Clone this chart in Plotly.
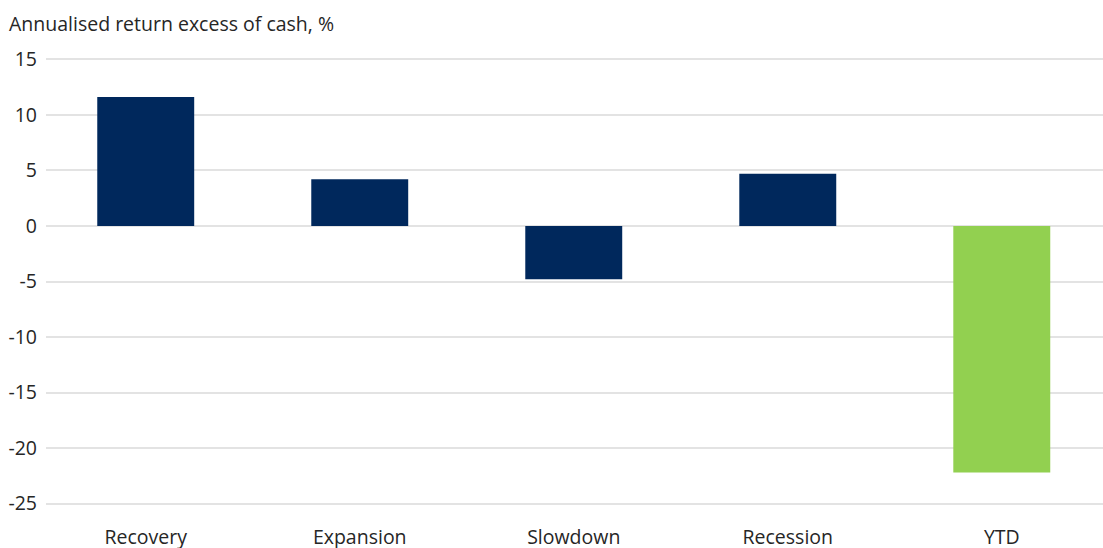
import plotly.graph_objects as go

categories = ["Recovery", "Expansion", "Slowdown", "Recession", "YTD"]
values = [11.6, 4.2, -4.8, 4.7, -22.2]
bar_colors = ["#00285C", "#00285C", "#00285C", "#00285C", "#92D050"]
y_ticks = [15, 10, 5, 0, -5, -10, -15, -20, -25]
title_text = "Annualised return excess of cash, %"

FONT = "Open Sans"
TEXT = "#262626"
FS = 19.5

fig = go.Figure(
    go.Bar(
        x=categories,
        y=values,
        marker=dict(color=bar_colors, line=dict(width=0)),
        width=0.453,
        hoverinfo="skip",
    )
)

fig.update_layout(
    width=1103,
    height=548,
    margin=dict(l=46, r=0, t=56, b=41),
    paper_bgcolor="white",
    plot_bgcolor="white",
    showlegend=False,
    font=dict(family=FONT, size=FS, color=TEXT),
    title=dict(
        text=title_text,
        xref="container",
        yref="container",
        x=9 / 1103,
        xanchor="left",
        y=1 - 24 / 548,
        yanchor="middle",
        font=dict(family=FONT, size=FS, color=TEXT),
    ),
)

fig.update_xaxes(
    range=[-0.466, 4.473],
    automargin=False,
    showgrid=False,
    showline=False,
    zeroline=False,
    ticks="",
    ticklabelstandoff=16,
    tickfont=dict(family=FONT, size=FS, color=TEXT),
)

fig.update_yaxes(
    range=[-25.3, 15.3],
    automargin=False,
    tickvals=y_ticks,
    ticktext=[str(v) for v in y_ticks],
    showgrid=True,
    gridcolor="#e3e3e3",
    gridwidth=1.5,
    zeroline=False,
    showline=False,
    ticks="",
    ticklabelstandoff=8,
    tickfont=dict(family=FONT, size=FS, color=TEXT),
)

fig.write_html("out.html")
